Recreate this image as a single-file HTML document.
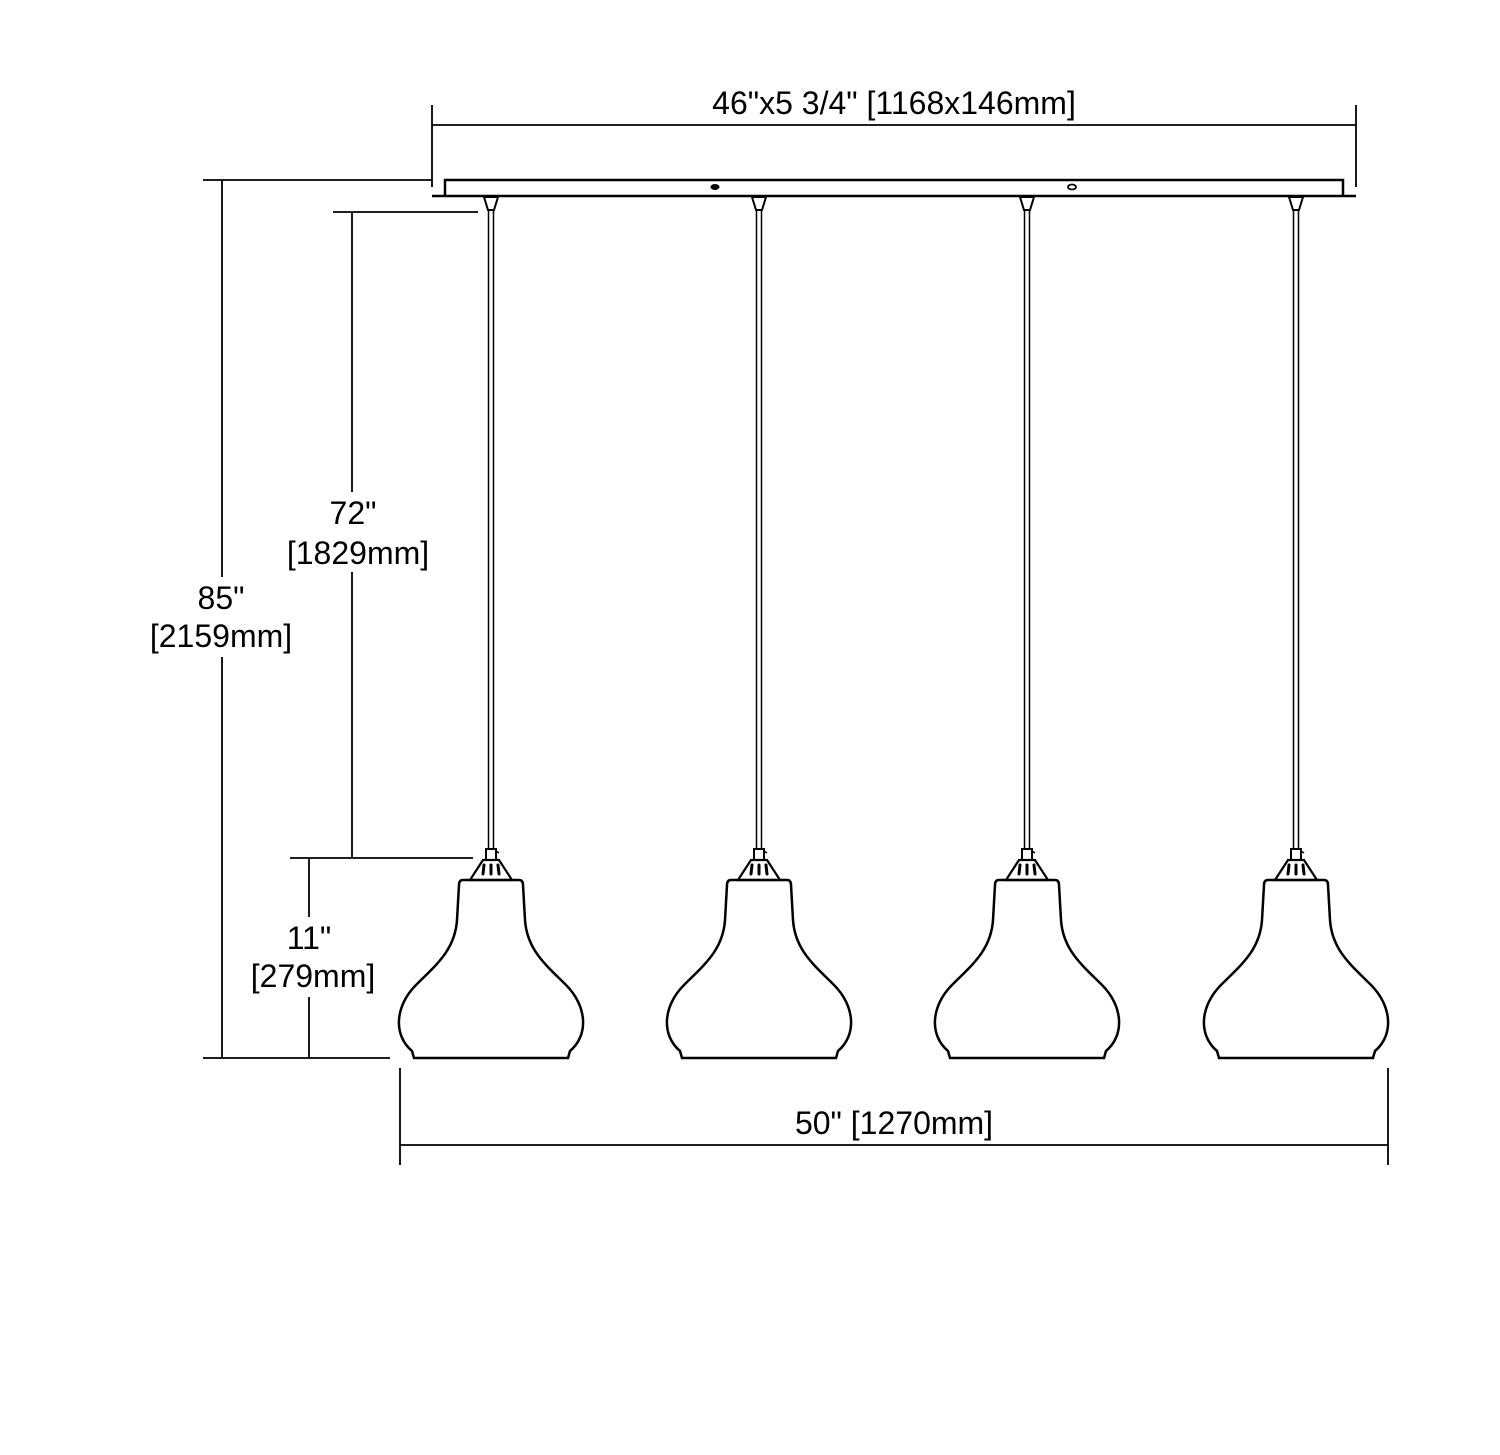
<!DOCTYPE html>
<html><head><meta charset="utf-8">
<style>
html,body{margin:0;padding:0;background:#fff;}
svg{display:block;}
text{font-family:"Liberation Sans",Arial,sans-serif;font-size:32px;fill:#000;}
</style></head>
<body>
<svg width="1500" height="1455" viewBox="0 0 1500 1455" xmlns="http://www.w3.org/2000/svg">
<defs>
<g id="lamp">
  <path d="M-7,197 L7,197 L3,210 L-3,210 Z" fill="none" stroke="#000" stroke-width="2"/>
  <line x1="-2.5" y1="210" x2="-2.5" y2="849" stroke="#000" stroke-width="1.5"/>
  <line x1="2.5" y1="210" x2="2.5" y2="849" stroke="#000" stroke-width="1.5"/>
  <rect x="-5" y="849" width="10" height="11" fill="#fff" stroke="#000" stroke-width="2"/>
  <line x1="5" y1="851" x2="8" y2="853" stroke="#000" stroke-width="1.5"/>
  <path d="M-21,880 L-8,860 L8,860 L21,880 Z" fill="#fff" stroke="#000" stroke-width="2.2"/>
  <line x1="-7" y1="865" x2="-8" y2="874" stroke="#000" stroke-width="3" stroke-linecap="round"/>
  <line x1="0" y1="865" x2="0" y2="874" stroke="#000" stroke-width="3" stroke-linecap="round"/>
  <line x1="7" y1="865" x2="8" y2="874" stroke="#000" stroke-width="3" stroke-linecap="round"/>
  <path d="M-28,880 L28,880 Q32,880 32,885 L34,920 C36,950 55,965 75,985 C96,1006 98,1035 79,1051 L77,1058 L-77,1058 L-79,1051 C-98,1035 -96,1006 -75,985 C-55,965 -36,950 -34,920 L-32,885 Q-32,880 -28,880 Z" fill="none" stroke="#000" stroke-width="2.5"/>
</g>
</defs>

<path d="M445,195 L445,180 L1343,180 L1343,195" fill="none" stroke="#000" stroke-width="2.5"/>
<line x1="432" y1="196" x2="1356" y2="196" stroke="#000" stroke-width="2.5"/>
<ellipse cx="715" cy="187" rx="4.5" ry="3" fill="#000"/>
<ellipse cx="1072" cy="187" rx="4" ry="2.5" fill="none" stroke="#000" stroke-width="1.8"/>

<use href="#lamp" x="491" y="0"/>
<use href="#lamp" x="759" y="0"/>
<use href="#lamp" x="1027" y="0"/>
<use href="#lamp" x="1296" y="0"/>

<g stroke="#000" stroke-width="1.8" fill="none">
  <line x1="432" y1="125" x2="1356" y2="125"/>
  <line x1="432" y1="105" x2="432" y2="187"/>
  <line x1="1356" y1="105" x2="1356" y2="187"/>
  <line x1="203" y1="180" x2="432" y2="180"/>
  <line x1="222" y1="180" x2="222" y2="1058"/>
  <line x1="203" y1="1058" x2="390" y2="1058"/>
  <line x1="333" y1="212" x2="478" y2="212"/>
  <line x1="352" y1="212" x2="352" y2="858"/>
  <line x1="290" y1="858" x2="473" y2="858"/>
  <line x1="309" y1="858" x2="309" y2="1058"/>
  <line x1="400" y1="1145" x2="1388" y2="1145"/>
  <line x1="400" y1="1068" x2="400" y2="1165"/>
  <line x1="1388" y1="1068" x2="1388" y2="1165"/>
</g>

<g fill="#fff">
  <rect x="340" y="492" width="24" height="80"/>
  <rect x="210" y="577" width="24" height="80"/>
  <rect x="297" y="917" width="24" height="80"/>
</g>

<g text-anchor="middle">
  <text x="894" y="114">46"x5 3/4" [1168x146mm]</text>
  <text x="353" y="524">72"</text>
  <text x="358" y="564">[1829mm]</text>
  <text x="221" y="609">85"</text>
  <text x="221" y="647">[2159mm]</text>
  <text x="309" y="949">11"</text>
  <text x="313" y="987">[279mm]</text>
  <text x="894" y="1134">50" [1270mm]</text>
</g>
</svg>
</body></html>
